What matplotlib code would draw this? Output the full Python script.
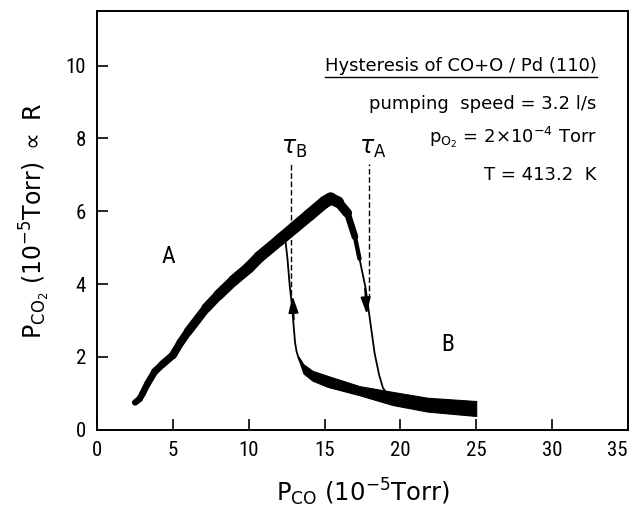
import numpy as np
import matplotlib
matplotlib.use("Agg")
import matplotlib.pyplot as plt
from matplotlib import font_manager
from matplotlib.collections import LineCollection

# branch A (high-rate state), thick trace
a_x = [2.5, 2.8, 3.0, 3.3, 3.8, 4.3, 5.0, 5.5, 6.0, 7.2, 8.0, 9.0, 10.0, 10.7,
       12.0, 13.0, 14.0, 15.0, 15.4, 15.9, 16.5, 17.0, 17.3]
a_y = [0.75, 0.85, 1.0, 1.25, 1.6, 1.8, 2.05, 2.4, 2.7, 3.35, 3.7, 4.1, 4.45, 4.75,
       5.2, 5.55, 5.9, 6.25, 6.35, 6.25, 5.95, 5.3, 4.7]

# drop A -> B (thin line)
drop_x = [17.3, 17.5, 17.7, 18.0, 18.3, 18.6, 18.85, 19.1]
drop_y = [4.7, 4.3, 3.9, 3.0, 2.1, 1.5, 1.15, 1.0]

# branch B (low-rate state), band edges
b_x = [13.3, 13.6, 14.2, 15.2, 17.3, 19.5, 21.8, 25.0]
b_hi = [2.0, 1.8, 1.62, 1.48, 1.2, 1.04, 0.88, 0.79]
b_lo = [1.95, 1.55, 1.35, 1.18, 0.95, 0.68, 0.5, 0.38]

# rise B -> A (thin line)
rise_x = [13.6, 13.3, 13.15, 13.05, 12.95, 12.85, 12.7, 12.55, 12.4]
rise_y = [1.65, 1.95, 2.15, 2.4, 2.9, 3.4, 3.95, 4.7, 5.25]

tau_b = 12.7
tau_a = 17.9

x_ticks = [0, 5, 10, 15, 20, 25, 30, 35]
y_ticks = [0, 2, 4, 6, 8, 10]

names = {f.name for f in font_manager.fontManager.ttflist}
tick_fam = "DejaVu Sans"
for cand in ["Roboto Condensed", "Liberation Sans Narrow", "Roboto"]:
    if cand in names:
        tick_fam = cand
        break

fig = plt.figure(figsize=(6.31, 5.21), dpi=100)
ax = fig.add_axes([0.154, 0.175, 0.841, 0.804])
ax.set_xlim(0, 35)
ax.set_ylim(0, 11.5)

# thick trace for branch A, width tapering at both ends
pts = np.column_stack([a_x, a_y])
segs = np.stack([pts[:-1], pts[1:]], axis=1)
xm = (pts[:-1, 0] + pts[1:, 0]) / 2
lws = np.interp(xm, [2.5, 6, 9, 15.4, 16.5, 17.3], [4.5, 6, 8, 9, 6, 2.5])
ax.add_collection(LineCollection(segs, linewidths=lws, colors="black", capstyle="round"))

ax.plot(drop_x, drop_y, color="black", lw=1.3)
ax.plot(rise_x, rise_y, color="black", lw=1.3)
ax.fill_between(b_x, b_lo, b_hi, color="black", lw=0.8, edgecolor="black")

# arrowheads
ax.annotate("", xy=(12.88, 3.75), xytext=(12.98, 2.95),
            arrowprops=dict(arrowstyle="-|>,head_length=1.0,head_width=0.3", color="black", lw=1.3))
ax.annotate("", xy=(17.8, 3.1), xytext=(17.65, 3.95),
            arrowprops=dict(arrowstyle="-|>,head_length=1.0,head_width=0.3", color="black", lw=1.3))

# dashed time markers
ax.plot([tau_b + 0.1, tau_b + 0.1], [3.7, 7.3], color="black", lw=1, ls=(0, (4, 2)))
ax.plot([tau_a, tau_a], [3.6, 7.3], color="black", lw=1, ls=(0, (4, 2)))
ax.text(tau_b + 0.3, 7.4, r"$\tau_{\rm B}$", fontsize=17, ha="center", va="bottom")
ax.text(tau_a + 0.3, 7.4, r"$\tau_{\rm A}$", fontsize=17, ha="center", va="bottom")

ax.text(4.7, 4.75, "A", fontsize=17, ha="center", va="center", family=tick_fam)
ax.text(23.1, 2.35, "B", fontsize=17, ha="center", va="center", family=tick_fam)

# annotation block
tx = 32.95
fs = 13
title = ax.text(tx, 10.0, "Hysteresis of CO+O / Pd (110)", fontsize=fs, ha="right", va="center")
ax.text(tx, 8.95, "pumping  speed = 3.2 l/s", fontsize=fs, ha="right", va="center")
ax.text(tx, 8.03, r"p$_{\mathrm{O_2}}$ = 2$\times$10$^{-4}$ Torr", fontsize=fs, ha="right", va="center")
ax.text(tx, 7.0, "T = 413.2  K", fontsize=fs, ha="right", va="center")
fig.canvas.draw()
bb = title.get_window_extent(fig.canvas.get_renderer())
x0 = ax.transData.inverted().transform((bb.x0, bb.y0))[0]
ax.plot([x0, tx], [9.7, 9.7], color="black", lw=1)

ax.set_xticks(x_ticks, labels=[str(v) for v in x_ticks], fontsize=15, family=tick_fam)
ax.set_yticks(y_ticks, labels=[str(v) for v in y_ticks], fontsize=15, family=tick_fam)
ax.tick_params(direction="in", length=8, width=1.2, pad=8)
ax.get_xticklabels()[-1].set_ha("right")
ax.set_xlim(0, 35)
ax.set_ylim(0, 11.5)
for s in ax.spines.values():
    s.set_linewidth(1.4)

ax.set_xlabel(r"P$_{\mathrm{CO}}$ (10$^{-5}$Torr)", fontsize=17.5, labelpad=12)
ax.set_ylabel(r"P$_{\mathrm{CO_2}}$ (10$^{-5}$Torr) $\propto$ R", fontsize=17, labelpad=10)

fig.savefig("out.png", dpi=100)
